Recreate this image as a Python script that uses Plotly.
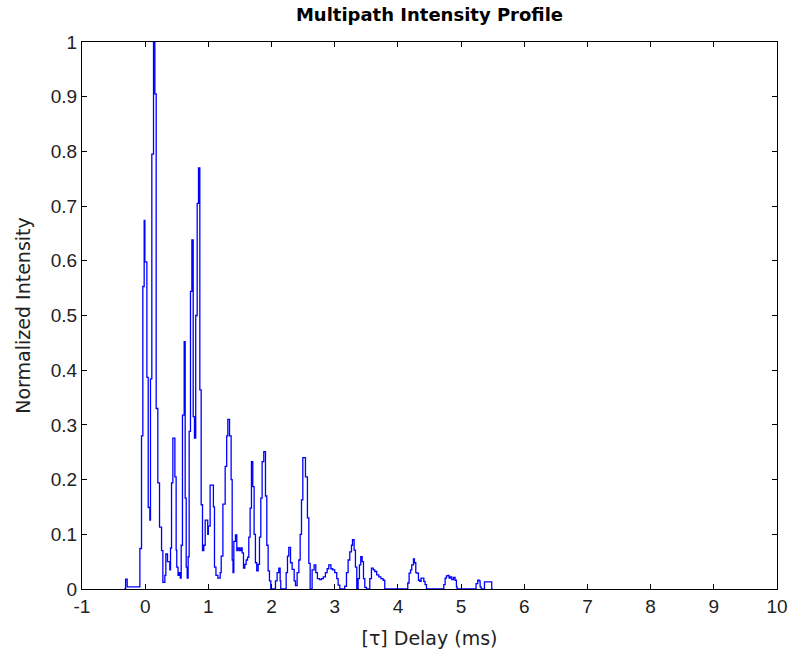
import plotly.graph_objects as go

# Delay (ms) at each step start, and normalized intensity held until the next step
delay_ms = [
    -0.33, -0.31, -0.285, -0.084, -0.058, -0.037, -0.016, -0.005, 0.027, 0.048,
    0.074, 0.084, 0.105, 0.132, 0.153, 0.174, 0.2, 0.227, 0.259, 0.28,
    0.311, 0.327, 0.353, 0.39, 0.401, 0.417, 0.438, 0.47, 0.49, 0.50,
    0.52, 0.54, 0.555, 0.57, 0.59, 0.617, 0.633, 0.649, 0.665, 0.68,
    0.696, 0.717, 0.739, 0.76, 0.78, 0.80, 0.823, 0.844, 0.865, 0.886,
    0.907, 0.928, 0.95, 0.99, 1.0, 1.028, 1.08, 1.097, 1.12, 1.15,
    1.187, 1.203, 1.23, 1.266, 1.29, 1.308, 1.335, 1.36, 1.377, 1.39,
    1.403, 1.429, 1.45, 1.47, 1.493, 1.515, 1.535, 1.556, 1.577, 1.598,
    1.62, 1.64, 1.661, 1.682, 1.703, 1.724, 1.745, 1.766, 1.788, 1.809,
    1.83, 1.851, 1.877, 1.904, 1.925, 1.946, 1.967, 1.988, 2.062, 2.088,
    2.115, 2.136, 2.146, 2.231, 2.252, 2.273, 2.30, 2.326, 2.358, 2.379,
    2.405, 2.432, 2.453, 2.474, 2.495, 2.537, 2.568, 2.59, 2.611, 2.642,
    2.674, 2.70, 2.726, 2.76, 2.79, 2.82, 2.853, 2.88, 2.906, 2.94,
    2.969, 3.0, 3.032, 3.054, 3.08, 3.159, 3.186, 3.212, 3.238, 3.265,
    3.281, 3.307, 3.328, 3.349, 3.37, 3.391, 3.412, 3.434, 3.455, 3.476,
    3.502, 3.555, 3.581, 3.61, 3.634, 3.665, 3.697, 3.73, 3.766, 3.792,
    4.14, 4.156, 4.177, 4.2, 4.219, 4.246, 4.262, 4.283, 4.30, 4.325,
    4.346, 4.367, 4.41, 4.43, 4.452, 4.726, 4.747, 4.768, 4.79, 4.81,
    4.83, 4.852, 4.88, 4.905, 4.926, 4.937, 5.237, 5.264, 5.285, 5.301,
    5.317, 5.37, 5.459, 5.485, 5.5,
]
intensity = [
    0.0, 0.018, 0.004, 0.074, 0.28, 0.553, 0.674, 0.598, 0.387, 0.149,
    0.126, 0.384, 0.795, 1.0, 0.905, 0.33, 0.194, 0.113, 0.07, 0.012,
    0.025, 0.064, 0.05, 0.035, 0.075, 0.194, 0.276, 0.205, 0.071, 0.04,
    0.025, 0.03, 0.02, 0.08, 0.318, 0.452, 0.166, 0.04, 0.02, 0.059,
    0.288, 0.544, 0.638, 0.315, 0.276, 0.50, 0.705, 0.77, 0.364, 0.154,
    0.07, 0.08, 0.126, 0.10, 0.115, 0.19, 0.15, 0.04, 0.025, 0.02,
    0.03, 0.06, 0.155, 0.224, 0.28, 0.31, 0.28, 0.2, 0.053, 0.03,
    0.087, 0.099, 0.07, 0.075, 0.07, 0.075, 0.066, 0.038, 0.045, 0.053,
    0.058, 0.095, 0.148, 0.233, 0.187, 0.10, 0.048, 0.033, 0.045, 0.095,
    0.166, 0.233, 0.251, 0.17, 0.08, 0.033, 0.015, 0.0, 0.015, 0.03,
    0.038, 0.015, 0.0, 0.03, 0.06, 0.076, 0.048, 0.036, 0.015, 0.006,
    0.03, 0.053, 0.10, 0.163, 0.24, 0.205, 0.13, 0.047, 0.0, 0.035,
    0.044, 0.03, 0.019, 0.017, 0.019, 0.022, 0.03, 0.037, 0.044, 0.037,
    0.035, 0.03, 0.019, 0.007, 0.0, 0.005, 0.03, 0.053, 0.068, 0.08,
    0.09, 0.071, 0.04, 0.0, 0.019, 0.044, 0.059, 0.05, 0.019, 0.003,
    0.0, 0.019, 0.038, 0.035, 0.032, 0.026, 0.022, 0.019, 0.016, 0.0,
    0.0, 0.011, 0.029, 0.035, 0.044, 0.055, 0.048, 0.03, 0.029, 0.016,
    0.014, 0.02, 0.014, 0.008, 0.0, 0.008, 0.02, 0.024, 0.025, 0.02,
    0.022, 0.017, 0.021, 0.016, 0.004, 0.0, 0.01, 0.016, 0.015, 0.004,
    0.0, 0.013, 0.013, 0.0, 0.0,
]

x_ticks = list(range(-1, 11))
y_ticks = [0, 0.1, 0.2, 0.3, 0.4, 0.5, 0.6, 0.7, 0.8, 0.9, 1]
y_tick_labels = ["0", "0.1", "0.2", "0.3", "0.4", "0.5", "0.6", "0.7", "0.8", "0.9", "1"]

fig = go.Figure()
fig.add_trace(go.Scatter(
    x=delay_ms, y=intensity, mode="lines", line_shape="hv",
    line=dict(color="#0000FF", width=1.3), showlegend=False,
))

tick_family = "Liberation Sans, Arial, sans-serif"
label_family = "DejaVu Sans, sans-serif"
axis_common = dict(
    showline=True, linecolor="black", linewidth=1, mirror="ticks",
    ticks="inside", ticklen=5, tickcolor="black", tickwidth=1,
    showgrid=False, zeroline=False, automargin=False, layer="above traces",
    tickfont=dict(family=tick_family, size=19, color="#222222"),
)

fig.update_layout(
    width=789, height=654,
    margin=dict(l=82, r=12, t=42, b=65),
    paper_bgcolor="white", plot_bgcolor="white",
    title=dict(text="<b>Multipath Intensity Profile</b>", x=(82 + 777) / 2 / 789,
               xanchor="center", y=1 - 15 / 654, yanchor="middle",
               font=dict(family=label_family, size=18, color="black")),
    xaxis=dict(range=[-1, 10], tickvals=x_ticks, ticktext=[str(v) for v in x_ticks],
               title=dict(text="[τ] Delay (ms)",
                          font=dict(family=label_family, size=19, color="#222222")),
               **axis_common),
    yaxis=dict(range=[0, 1], tickvals=y_ticks, ticktext=y_tick_labels,
               title=dict(text="Normalized Intensity",
                          font=dict(family=label_family, size=19, color="#222222")),
               **axis_common),
)

fig.write_html("out.html")
